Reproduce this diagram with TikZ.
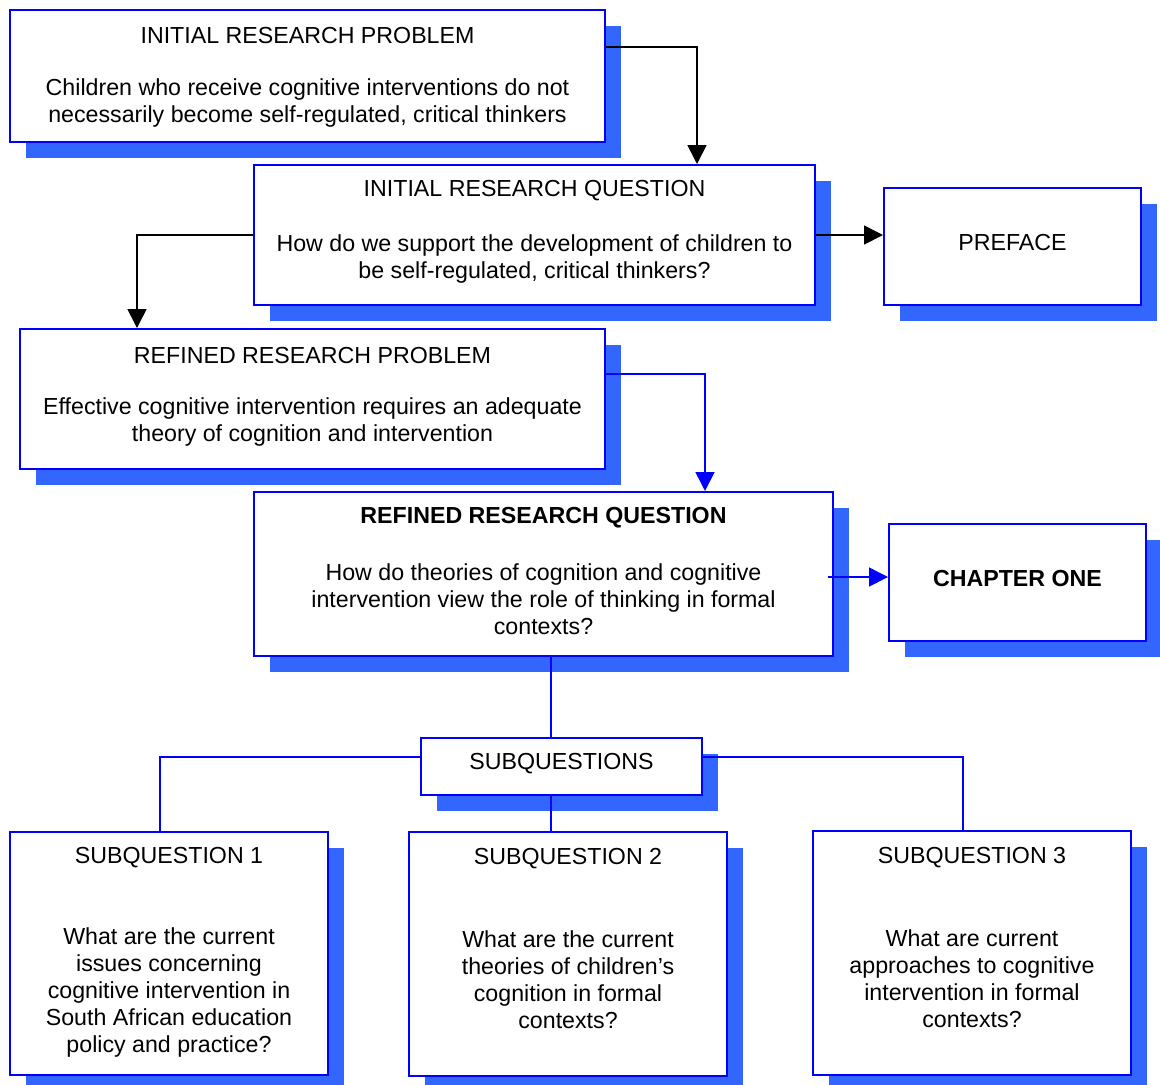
\documentclass[tikz,border=0pt]{standalone}
\usepackage{fontspec}
\setmainfont{Liberation Sans}
\usepackage{xcolor}
\definecolor{frameblue}{RGB}{0,0,255}
\definecolor{shadeblue}{RGB}{51,102,255}
\usetikzlibrary{arrows.meta, positioning, calc, shadows}

\begin{document}
\begin{tikzpicture}[x=0.5pt, y=-0.5pt,
    box/.style={draw=frameblue, line width=1pt, fill=white, inner sep=0pt,
      general shadow={fill=shadeblue, shadow xshift=8pt, shadow yshift=-8pt}},
    txt/.style={font=\fontsize{11.6pt}{13.5pt}\selectfont, align=center, inner sep=0pt, yshift=-1pt},
    blacklink/.style={draw=black, line width=0.8pt, -{Triangle[width=9.5pt, length=9.5pt]}},
    bluelink/.style={draw=frameblue, line width=0.75pt, -{Triangle[width=9.5pt, length=9.5pt]}},
    plainlink/.style={draw=frameblue, line width=0.75pt}]
  \useasboundingbox (0,0) rectangle (1160,1084);

  % Initial research problem
  \node[box, minimum width=297.5pt, minimum height=66pt] (irp) at (307.5,76) {};
  \node[txt] (irpTitle) at (307.5,34) {INITIAL RESEARCH PROBLEM};
  \node[txt] (irpBody) at (307.5,101) {Children who receive cognitive interventions do not\\necessarily become self-regulated, critical thinkers};

  % Initial research question
  \node[box, minimum width=280.5pt, minimum height=70pt] (irq) at (534.5,235) {};
  \node[txt] (irqTitle) at (534.5,189) {INITIAL RESEARCH QUESTION};
  \node[txt] (irqBody) at (534.5,256.5) {How do we support the development of children to\\be self-regulated, critical thinkers?};

  % Preface
  \node[box, minimum width=128.5pt, minimum height=58.5pt] (preface) at (1012.5,246.5) {};
  \node[txt] (prefaceTitle) at (1012.5,240) {PREFACE};

  % Refined research problem
  \node[box, minimum width=292.5pt, minimum height=70pt] (rrp) at (312.5,399) {};
  \node[txt] (rrpTitle) at (312.5,353) {REFINED RESEARCH PROBLEM};
  \node[txt] (rrpBody) at (312.5,419.5) {Effective cognitive intervention requires an adequate\\theory of cognition and intervention};

  % Refined research question
  \node[box, minimum width=289.5pt, minimum height=82pt] (rrq) at (543.5,574) {};
  \node[txt, font=\fontsize{11.6pt}{13.5pt}\selectfont\bfseries] (rrqTitle) at (543.5,516) {REFINED RESEARCH QUESTION};
  \node[txt] (rrqBody) at (543.5,597) {How do theories of cognition and cognitive\\intervention view the role of thinking in formal\\contexts?};

  % Chapter one
  \node[box, minimum width=128.5pt, minimum height=58.5pt] (chOne) at (1017.5,582.5) {};
  \node[txt, font=\fontsize{11.6pt}{13.5pt}\selectfont\bfseries] (chOneTitle) at (1017.5,576) {CHAPTER ONE};

  % Subquestions
  \node[box, minimum width=140.5pt, minimum height=28.5pt] (subq) at (561.5,766.5) {};
  \node[txt] (subqTitle) at (561.5,762) {SUBQUESTIONS};

  \node[box, minimum width=159pt, minimum height=121.5pt] (sqOne) at (169,953.5) {};
  \node[txt] (sqOneTitle) at (169,856) {SUBQUESTION 1};
  \node[txt] (sqOneBody) at (169,990) {What are the current\\issues concerning\\cognitive intervention in\\South African education\\policy and practice?};

  \node[box, minimum width=159pt, minimum height=122pt] (sqTwo) at (568,954) {};
  \node[txt] (sqTwoTitle) at (568,857) {SUBQUESTION 2};
  \node[txt] (sqTwoBody) at (568,977.5) {What are the current\\theories of children’s\\cognition in formal\\contexts?};

  \node[box, minimum width=159pt, minimum height=122pt] (sqThree) at (972,953) {};
  \node[txt] (sqThreeTitle) at (972,856) {SUBQUESTION 3};
  \node[txt] (sqThreeBody) at (972,976.5) {What are current\\approaches to cognitive\\intervention in formal\\contexts?};

  % Connectors
  \draw[blacklink] ($(irp.north east)+(0,38)$) -| ($(irq.north west)+(444,0)$);
  \draw[blacklink] (irq.west) -| ($(rrp.north west)+(118,0)$);
  \draw[blacklink] (irq.east) -- (irq.east -| preface.west);
  \draw[bluelink] ($(rrp.north east)+(0,46)$) -| ($(rrq.north west)+(452,0)$);
  \coordinate (chIn) at ($(rrq.east)+(-6,3)$);
  \draw[bluelink] (chIn) -- (chIn -| chOne.west);
  \coordinate (stem) at ($(subq.north west)+(131,0)$);
  \draw[plainlink] (stem |- rrq.south) -- (stem);
  \draw[plainlink] (stem |- subq.south) -- (stem |- sqTwo.north);
  \draw[plainlink] ($(subq.west)+(0,-9.5)$) -| ($(sqOne.north)+(-9,0)$);
  \draw[plainlink] ($(subq.east)+(0,-9.5)$) -| ($(sqThree.north)+(-9,0)$);
\end{tikzpicture}
\end{document}
